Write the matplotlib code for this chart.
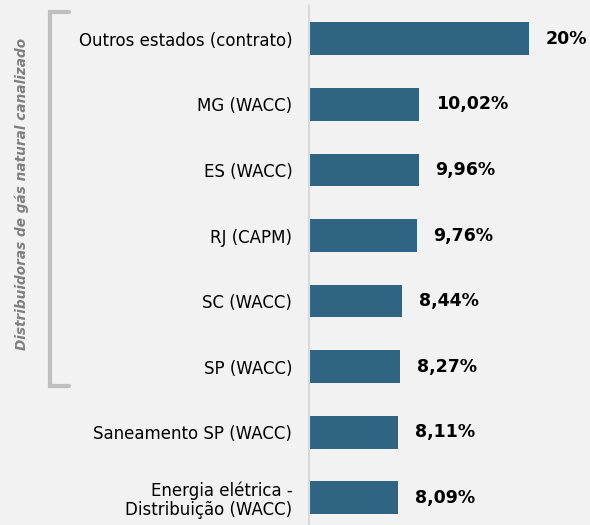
import matplotlib
matplotlib.use("Agg")
import matplotlib.pyplot as plt
from matplotlib.lines import Line2D

categories = [
    "Outros estados (contrato)",
    "MG (WACC)",
    "ES (WACC)",
    "RJ (CAPM)",
    "SC (WACC)",
    "SP (WACC)",
    "Saneamento SP (WACC)",
    "Energia elétrica -\nDistribuição (WACC)",
]
values = [20.0, 10.02, 9.96, 9.76, 8.44, 8.27, 8.11, 8.09]
value_labels = ["20%", "10,02%", "9,96%", "9,76%", "8,44%", "8,27%", "8,11%", "8,09%"]
group_label = "Distribuidoras de gás natural canalizado"

BG = "#F2F2F2"
BAR = "#2F6582"

plt.rcParams["font.family"] = ["DejaVu Sans"]

W, H = 590, 525
fig = plt.figure(figsize=(W / 100, H / 100), dpi=100, facecolor=BG)
ax = fig.add_axes([309 / W, 0, 281 / W, 519 / H])
ax.set_facecolor(BG)

y = list(range(len(categories)))
ax.barh(y, values, height=0.5, color=BAR, left=0)
ax.set_xlim(0, 25.5)
ax.set_ylim(7.415, -0.5)

for yi, v, lab in zip(y, values, value_labels):
    ax.annotate(lab, (v, yi), xytext=(12, 0), textcoords="offset points",
                va="center", ha="left", fontsize=12.5, fontweight="bold", color="black")

ax.set_yticks(y)
ax.set_yticklabels(categories, fontsize=12, color="black", ha="right", linespacing=1.1)
ax.tick_params(axis="y", length=0, pad=12)
ax.set_xticks([])
for s in ["top", "right", "bottom"]:
    ax.spines[s].set_visible(False)
ax.spines["left"].set_color("#D9D9D9")
ax.spines["left"].set_linewidth(1.5)

# bracket for the gas distributors group
bx0, bx1, by0, by1 = 50, 69, 12, 386
px = lambda x: x / W
py = lambda yy: 1 - yy / H
bracket = Line2D([px(bx1), px(bx0), px(bx0), px(bx1)],
                 [py(by0), py(by0), py(by1), py(by1)],
                 transform=fig.transFigure, color="#BFBFBF", linewidth=3,
                 solid_capstyle="round", solid_joinstyle="miter")
fig.add_artist(bracket)
fig.text(px(22), py(194), group_label, rotation=90, ha="center", va="center",
         fontsize=9.8, style="italic", fontweight="bold", color="#7F7F7F")

fig.savefig("out.png", dpi=100, facecolor=BG)
